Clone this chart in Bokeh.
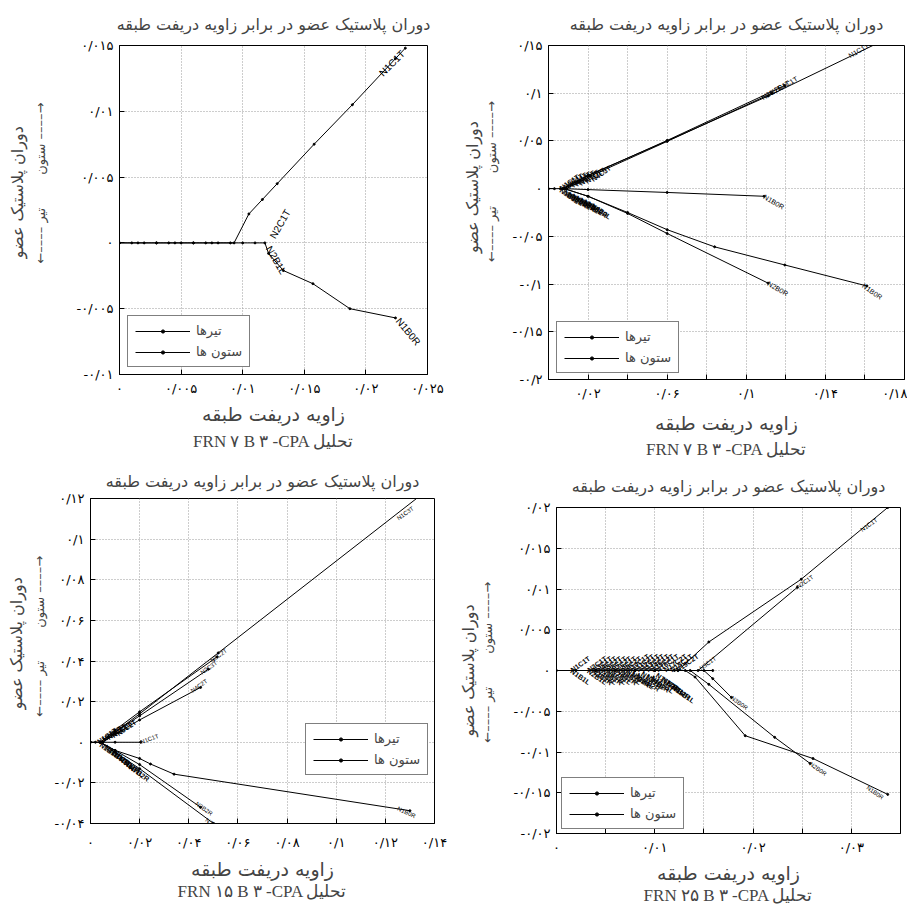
from bokeh.plotting import figure
from bokeh.models import FixedTicker, Title, Legend, LegendItem
from bokeh.layouts import column, row
from bokeh.embed import file_html
from bokeh.resources import INLINE
from bokeh.core.properties import value

FA = "DejaVu Sans"
SERIF = "Liberation Serif"
LAT = "Liberation Sans"
NBSP = "\u00a0"

title_text = "دوران پلاستیک عضو در برابر زاویه دریفت طبقه"
xlabel_text = "زاویه دریفت طبقه"
ylabel_outer = "دوران پلاستیک عضو"
ylabel_inner = ("\u2190\u2013\u2013\u2013\u2013 تیر\u200e" + NBSP * 8
                + "\u200eستون \u2013\u2013\u2013\u2013\u2192")
legend_beam = "تیرها"
legend_col = "ستون ها"

# ---------------- Panel 1 : FRN 7 ----------------
p1_subtitle = "FRN \u06f7 B \u06f3 -CPA تحلیل"
p1_xticks = [0, 0.005, 0.01, 0.015, 0.02, 0.025]
p1_xtick_labels = ["۰", "۰/۰۰۵", "۰/۰۱", "۰/۰۱۵", "۰/۰۲", "۰/۰۲۵"]
p1_yticks = [-0.01, -0.005, 0, 0.005, 0.01, 0.015]
p1_ytick_labels = ["-۰/۰۱", "-۰/۰۰۵", "۰", "۰/۰۰۵", "۰/۰۱", "۰/۰۱۵"]
p1_col_x = [[0, 0.0015, 0.003, 0.0045, 0.006, 0.0075, 0.0093, 0.0105, 0.0116, 0.0128, 0.0158, 0.0189, 0.0224, 0.0232]]
p1_col_y = [[0, 0, 0, 0, 0, 0, 0, 0.0022, 0.0033, 0.0045, 0.0075, 0.0105, 0.014, 0.0148]]
p1_beam_x = [[0, 0.001, 0.002, 0.003, 0.004, 0.005, 0.006, 0.007, 0.008, 0.009, 0.010, 0.011, 0.0118,
              0.0121, 0.0133, 0.0157, 0.0187, 0.0224]]
p1_beam_y = [[0, 0, 0, 0, 0, 0, 0, 0, 0, 0, 0, 0, 0, -0.0008, -0.0021, -0.0031, -0.005, -0.0057]]
p1_lab_x = [0.0124, 0.0121, 0.0212, 0.0226]
p1_lab_y = [0.0004, -0.0003, 0.0128, -0.0058]
p1_lab_text = ["N2C1T", "N2B1L", "N1C1T", "N1B0R"]
p1_lab_angle = [60, -60, 45, -50]
p1_fan_x = []
p1_fan_y = []
p1_fan_text = []
p1_fan_angle = []

# ---------------- Panel 2 : FRN 7 (second) ----------------
p2_subtitle = "FRN \u06f7 B \u06f3 -CPA تحلیل"
p2_xticks = [0, 0.02, 0.04, 0.06, 0.08, 0.1, 0.12, 0.14, 0.16, 0.18]
p2_xtick_labels = ["", "۰/۰۲", "", "۰/۰۶", "", "۰/۱", "", "۰/۱۴", "", "۰/۱۸"]
p2_yticks = [-0.2, -0.15, -0.1, -0.05, 0, 0.05, 0.1, 0.15]
p2_ytick_labels = ["-۰/۲", "-۰/۱۵", "-۰/۱", "-۰/۰۵", "۰", "۰/۰۵", "۰/۱", "۰/۱۵"]
p2_col_x = [[0.007, 0.02, 0.06, 0.111, 0.165], [0.008, 0.02, 0.06, 0.1195], [0.009, 0.021, 0.06, 0.113],
            [0, 0.003, 0.006, 0.009]]
p2_col_y = [[0, 0.014, 0.05, 0.097, 0.151], [0, 0.0135, 0.0505, 0.108], [0, 0.013, 0.0495, 0.100],
            [0, 0, 0, 0]]
p2_beam_x = [[0.008, 0.02, 0.06, 0.109], [0.008, 0.02, 0.04, 0.06, 0.111],
             [0.008, 0.02, 0.04, 0.06, 0.084, 0.1195, 0.161]]
p2_beam_y = [[0, -0.001, -0.004, -0.008], [0, -0.008, -0.026, -0.047, -0.099],
             [0, -0.008, -0.025, -0.043, -0.061, -0.080, -0.102]]
p2_lab_x = [0.108, 0.112, 0.116, 0.152, 0.109, 0.111, 0.159]
p2_lab_y = [0.095, 0.100, 0.104, 0.139, -0.008, -0.099, -0.101]
p2_lab_text = ["N3C1T", "N2C1T", "N4C1T", "N1C1T", "N1B0R", "N2B0R", "N1B0R"]
p2_lab_angle = [30, 30, 30, 30, -30, -30, -35]
p2_fan_x = [0.006, 0.008, 0.010, 0.012, 0.014, 0.016, 0.019, 0.022,
            0.006, 0.008, 0.010, 0.012, 0.014, 0.016, 0.018, 0.020, 0.022]
p2_fan_y = [0, 0.001, 0.002, 0.003, 0.004, 0.005, 0.007, 0.009,
            -0.001, -0.003, -0.005, -0.007, -0.009, -0.011, -0.013, -0.015, -0.017]
p2_fan_text = ["N1C1T", "N2C1T", "N3C1T", "N4C2T", "N5C1T", "N6C2T", "N7C1T", "N4C3T",
               "N1B1L", "N2B1L", "N3B1R", "N4B2L", "N5B1R", "N6B2L", "N7B1L", "N3B2R", "N4B3L"]
p2_fan_angle = [35, 35, 35, 35, 35, 35, 35, 35, -35, -35, -35, -35, -35, -35, -35, -35, -35]

# ---------------- Panel 3 : FRN 15 ----------------
p3_subtitle = "FRN \u06f1\u06f5 B \u06f3 -CPA تحلیل"
p3_xticks = [0, 0.02, 0.04, 0.06, 0.08, 0.1, 0.12, 0.14]
p3_xtick_labels = ["۰", "۰/۰۲", "۰/۰۴", "۰/۰۶", "۰/۰۸", "۰/۱", "۰/۱۲", "۰/۱۴"]
p3_yticks = [-0.04, -0.02, 0, 0.02, 0.04, 0.06, 0.08, 0.1, 0.12]
p3_ytick_labels = ["-۰/۰۴", "-۰/۰۲", "۰", "۰/۰۲", "۰/۰۴", "۰/۰۶", "۰/۰۸", "۰/۱", "۰/۱۲"]
p3_col_x = [[0, 0.002, 0.004, 0.010, 0.020, 0.052, 0.138], [0.004, 0.010, 0.020, 0.0515],
            [0.005, 0.010, 0.020, 0.048], [0.005, 0.010, 0.020, 0.0448], [0, 0.010, 0.0204]]
p3_col_y = [[0, 0, 0, 0.005, 0.014, 0.044, 0.125], [0, 0.006, 0.015, 0.042],
            [0, 0.005, 0.013, 0.036], [0, 0.004, 0.011, 0.027], [0, 0, 0]]
p3_beam_x = [[0.004, 0.010, 0.020, 0.0501], [0.004, 0.010, 0.020, 0.0448],
             [0.004, 0.010, 0.020, 0.0244, 0.034, 0.130]]
p3_beam_y = [[0, -0.005, -0.013, -0.040], [0, -0.004, -0.011, -0.032],
             [0, -0.004, -0.008, -0.0107, -0.0157, -0.0337]]
p3_lab_x = [0.125, 0.049, 0.045, 0.041, 0.0204, 0.047, 0.043, 0.125]
p3_lab_y = [0.110, 0.040, 0.034, 0.025, 0.0, -0.038, -0.030, -0.0325]
p3_lab_text = ["N1C3T", "N3C2T", "N2C3T", "N4C2T", "N1C1T", "N2B3R", "N3B2R", "N1B0R"]
p3_lab_angle = [35, 35, 35, 35, 20, -35, -35, -25]
p3_fan_x = [0.003, 0.005, 0.007, 0.009, 0.011,
            0.004, 0.006, 0.008, 0.010, 0.012, 0.014, 0.016]
p3_fan_y = [0.0, 0.001, 0.002, 0.003, 0.004,
            -0.001, -0.002, -0.004, -0.006, -0.008, -0.010, -0.012]
p3_fan_text = ["N1C1T", "N2C1T", "N3C2T", "N4C1T", "N5C2T",
               "N1B1L", "N2B1L", "N3B2R", "N4B1L", "N5B2R", "N6B1L", "N7B2R"]
p3_fan_angle = [35, 35, 35, 35, 35, -35, -35, -35, -35, -35, -35, -35]

# ---------------- Panel 4 : FRN 25 ----------------
p4_subtitle = "FRN \u06f2\u06f5 B \u06f3 -CPA تحلیل"
p4_xticks = [0, 0.005, 0.01, 0.015, 0.02, 0.025, 0.03, 0.035]
p4_xtick_labels = ["۰", "", "۰/۰۱", "", "۰/۰۲", "", "۰/۰۳", ""]
p4_yticks = [-0.02, -0.015, -0.01, -0.005, 0, 0.005, 0.01, 0.015, 0.02]
p4_ytick_labels = ["-۰/۰۲", "-۰/۰۱۵", "-۰/۰۱", "-۰/۰۰۵", "۰", "۰/۰۰۵", "۰/۰۱", "۰/۰۱۵", "۰/۰۲"]
p4_col_x = [[0, 0.002, 0.004, 0.006, 0.008, 0.010, 0.01235, 0.0155, 0.0249, 0.0337, 0.0345],
            [0.004, 0.008, 0.012, 0.0144, 0.0245], [0.010, 0.0159]]
p4_col_y = [[0, 0, 0, 0, 0, 0, 0, 0.0035, 0.0112, 0.0200, 0.0208],
            [0, 0, 0, 0, 0.0102], [0, 0]]
p4_beam_x = [[0.0131, 0.0141, 0.0192, 0.0261, 0.0337], [0.0136, 0.0155, 0.0222, 0.0258],
             [0.0150, 0.0159, 0.0178]]
p4_beam_y = [[0, -0.0008, -0.008, -0.0108, -0.0152], [0, -0.0017, -0.0082, -0.0114],
             [0, -0.0010, -0.0033]]
p4_lab_x = [0.0310, 0.0245, 0.0146, 0.0258, 0.0178, 0.0316]
p4_lab_y = [0.0172, 0.0102, 0.0002, -0.0114, -0.0033, -0.0143]
p4_lab_text = ["N1C1T", "N2C1T", "N3C1T", "N2B0R", "N3B0R", "N1B0R"]
p4_lab_angle = [35, 35, 35, -35, -35, -35]
p4_fan_x = [0.0015, 0.0032, 0.0037, 0.0042, 0.0047, 0.0052, 0.0057, 0.0062, 0.0067, 0.0072, 0.0077,
            0.0082, 0.0087, 0.0092, 0.0097, 0.0102, 0.0110, 0.0116, 0.0122,
            0.0015, 0.0032, 0.0037, 0.0042, 0.0047, 0.0052, 0.0057, 0.0062, 0.0067, 0.0072, 0.0077,
            0.0082, 0.0087, 0.0092, 0.0097, 0.0102, 0.0108, 0.0113, 0.0118, 0.0123]
p4_fan_y = [0, 0, 0, 0, 0, 0, 0, 0, 0, 0, 0, 0, 0, 0, 0, 0, 0, 0, 0,
            0, 0, 0, 0, 0, 0, 0, 0, 0, 0, -0.0003, -0.0005, -0.0003, -0.0006, -0.0008, -0.0005,
            -0.0010, -0.0015, -0.0020, -0.0025]
p4_fan_text = ["N1C1T", "N2C1T", "N3C1T", "N4C1T", "N5C2T", "N6C1T", "N7C2T", "N8C1T", "N9C2T", "N10C1T",
               "N11C2T", "N12C1T", "N13C2T", "N14C1T", "N15C2T", "N16C1T", "N17C2T", "N18C1T", "N19C2T",
               "N1B1L", "N2B1L", "N3B1R", "N4B2L", "N5B1R", "N6B2L", "N7B1L", "N8B2R", "N9B1L", "N10B2R",
               "N11B1L", "N12B2R", "N13B1L", "N14B2R", "N15B1L", "N16B2R", "N17B1L", "N18B2R", "N19B1L"]
p4_fan_angle = [35] * 19 + [-35] * 19


def build(w, h, borders, xr, yr, xt, xtl, yt, ytl, cols_x, cols_y, beams_x, beams_y,
          labs, fans, subtitle, leg_loc, lab_size, ylab_layout, bottom_standoffs, title_standoff):
    bl, br, bt, bb = borders
    p = figure(width=w, height=h, x_range=xr, y_range=yr, output_backend="svg",
               toolbar_location=None, min_border_left=bl, min_border_right=br,
               min_border_top=bt, min_border_bottom=bb, title=title_text)
    p.background_fill_color = "white"
    p.border_fill_color = "white"
    p.outline_line_color = "black"
    p.outline_line_width = 1
    p.title.text_font = FA
    p.title.text_font_size = "16px"
    p.title.text_font_style = "normal"
    p.title.align = "center"
    p.title.standoff = title_standoff

    tick_so, lab_so, sub_so = bottom_standoffs
    for ax, ticks, labels in ((p.xaxis[0], xt, xtl), (p.yaxis[0], yt, ytl)):
        ax.ticker = FixedTicker(ticks=ticks)
        ax.major_label_overrides = dict(zip(ticks, labels))
        ax.minor_tick_line_color = None
        ax.major_tick_in = 5
        ax.major_tick_out = 0
        ax.major_label_text_font = FA
        ax.major_label_text_font_size = "13px"
        ax.major_label_text_color = "black"
        ax.axis_line_color = "black"
        ax.major_tick_line_color = "black"
        ax.major_label_standoff = 6
    p.xaxis.major_label_standoff = tick_so
    p.xaxis.axis_label = xlabel_text
    p.xaxis.axis_label_text_font = FA
    p.xaxis.axis_label_text_font_size = "19px"
    p.xaxis.axis_label_text_font_style = "normal"
    p.xaxis.axis_label_standoff = lab_so

    # two-part vertical label: inner line as the y axis label, outer line as a left title
    in_standoff, in_pad, out_standoff, out_pad = ylab_layout
    p.yaxis.axis_label = NBSP * in_pad + ylabel_inner
    p.yaxis.axis_label_text_font = FA
    p.yaxis.axis_label_text_font_size = "13px"
    p.yaxis.axis_label_text_font_style = "normal"
    p.yaxis.axis_label_standoff = in_standoff
    p.add_layout(Title(text=NBSP * out_pad + ylabel_outer, align="center", text_font=FA,
                       text_font_size="16px", text_font_style="normal", standoff=out_standoff), "left")

    for g in (p.xgrid[0], p.ygrid[0]):
        g.grid_line_color = "#9a9a9a"
        g.grid_line_dash = "1 2"
        g.grid_line_width = 1

    beams = p.multi_line(beams_x, beams_y, line_color="black", line_width=1)
    cols = p.multi_line(cols_x, cols_y, line_color="black", line_width=1)
    bx = [v for line in beams_x for v in line]
    by = [v for line in beams_y for v in line]
    cx = [v for line in cols_x for v in line]
    cy = [v for line in cols_y for v in line]
    bdots = p.scatter(bx, by, size=2, color="black")
    cdots = p.scatter(cx, cy, size=2, color="black")

    lx, ly, lt, la = labs
    p.text(lx, ly, text=lt, angle=la, angle_units="deg", text_font=value(LAT),
           text_font_size=lab_size, text_align="left", text_baseline="middle", text_color="black")
    fx, fy, ft, fa = fans
    if fx:
        p.text(fx, fy, text=ft, angle=fa, angle_units="deg", text_font=value(LAT),
               text_font_size="7px", text_font_style="bold", text_align="left",
               text_baseline="middle", text_color="black")

    legend = Legend(items=[LegendItem(label=legend_beam, renderers=[beams, bdots]),
                           LegendItem(label=legend_col, renderers=[cols, cdots])],
                    location=leg_loc, border_line_color="black", border_line_width=1,
                    background_fill_color="white", background_fill_alpha=1,
                    label_text_font=FA, label_text_font_size="13px", glyph_width=55,
                    glyph_height=8, spacing=6, padding=7, margin=0, label_standoff=6)
    p.add_layout(legend)

    p.add_layout(Title(text=subtitle, align="center", text_font=SERIF, text_font_size="17px",
                       text_font_style="normal", standoff=sub_so), "below")
    return p


f1 = build(456, 460, (119, 29, 44, 86), (0, 0.025), (-0.01, 0.015),
           p1_xticks, p1_xtick_labels, p1_yticks, p1_ytick_labels,
           p1_col_x, p1_col_y, p1_beam_x, p1_beam_y,
           (p1_lab_x, p1_lab_y, p1_lab_text, p1_lab_angle),
           (p1_fan_x, p1_fan_y, p1_fan_text, p1_fan_angle), p1_subtitle, (8, 7), "10px",
           (25, 13, 8, 7), (6, 4, 5), 24)
f2 = build(451, 460, (92, 3, 43, 81), (0, 0.18), (-0.2, 0.15),
           p2_xticks, p2_xtick_labels, p2_yticks, p2_ytick_labels,
           p2_col_x, p2_col_y, p2_beam_x, p2_beam_y,
           (p2_lab_x, p2_lab_y, p2_lab_text, p2_lab_angle),
           (p2_fan_x, p2_fan_y, p2_fan_text, p2_fan_angle), p2_subtitle, (8, 6), "7px",
           (10, 15, 0, 10), (6, 8, 2), 24)
f3 = build(456, 448, (90, 22, 38, 85), (0, 0.14), (-0.04, 0.12),
           p3_xticks, p3_xtick_labels, p3_yticks, p3_ytick_labels,
           p3_col_x, p3_col_y, p3_beam_x, p3_beam_y,
           (p3_lab_x, p3_lab_y, p3_lab_text, p3_lab_angle),
           (p3_fan_x, p3_fan_y, p3_fan_text, p3_fan_angle), p3_subtitle, (215, 48), "6px",
           (4, 12, 7, 7), (11, 5, -6), 16)
f4 = build(451, 448, (99, 7, 47, 75), (0, 0.035), (-0.02, 0.02),
           p4_xticks, p4_xtick_labels, p4_yticks, p4_ytick_labels,
           p4_col_x, p4_col_y, p4_beam_x, p4_beam_y,
           (p4_lab_x, p4_lab_y, p4_lab_text, p4_lab_angle),
           (p4_fan_x, p4_fan_y, p4_fan_text, p4_fan_angle), p4_subtitle, (5, 4), "6px",
           (15, 4, 0, 0), (6, 4, -6), 24)

layout = column(row(column(f1), column(f2)), row(column(f3), column(f4)))
open("out.html", "w").write(file_html(layout, INLINE, "chart"))
